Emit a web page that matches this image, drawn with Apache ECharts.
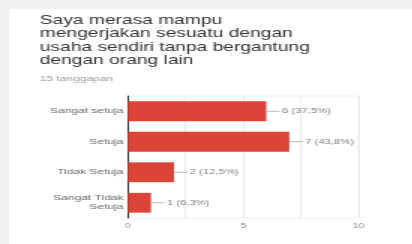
<!DOCTYPE html>
<html>
<head>
<meta charset="utf-8">
<script src="https://cdn.jsdelivr.net/npm/echarts@6/dist/echarts.min.js"></script>
<style>
  html, body { margin: 0; padding: 0; background: #f1f1f1; width: 412px; height: 244px; overflow: hidden; }
  #card { position: absolute; left: 9px; top: 9px; width: 403px; height: 235px; background: #fff; overflow: hidden; }
  /* the reference screenshot is stretched sideways, so draw narrow and scale */
  #chart { width: 268.67px; height: 235px; transform: scaleX(1.5); transform-origin: 0 0; }
</style>
</head>
<body>
<div id="card"><div id="chart"></div></div>
<script>
const titleLines = ['Saya merasa mampu', 'mengerjakan sesuatu dengan', 'usaha sendiri tanpa bergantung', 'dengan orang lain'];
const subtitle = '15 tanggapan';
const categories = ['Sangat setuja', 'Setuja', 'Tidak Setuja', 'Sangat Tidak\nSetuja'];
const counts = [6, 7, 2, 1];
const percents = ['37,5%', '43,8%', '12,5%', '6,3%'];
const xTicks = [0, 5, 10];

const chart = echarts.init(document.getElementById('chart'));
const option = {
  animation: false,
  title: [{
    text: titleLines.join('\n'),
    left: 20.5,
    top: 5,
    padding: 0,
    textStyle: {
      fontFamily: 'Liberation Sans',
      fontSize: 12.8,
      fontWeight: 'normal',
      lineHeight: 13.2,
      color: '#333'
    }
  }, {
    text: subtitle,
    left: 20.5,
    top: 65.5,
    padding: 0,
    textStyle: {
      fontFamily: 'Liberation Sans',
      fontSize: 8,
      fontWeight: 'normal',
      color: '#999'
    }
  }],
  grid: {
    left: 79.3,
    right: 36,
    top: 87,
    bottom: 26,
    show: true,
    borderColor: '#f0f0f0',
    borderWidth: 1
  },
  xAxis: {
    type: 'value',
    min: xTicks[0],
    max: xTicks[xTicks.length - 1],
    interval: 5,
    axisLine: { show: false },
    axisTick: { show: false },
    axisLabel: {
      fontFamily: 'Liberation Sans',
      fontSize: 7,
      color: '#888',
      margin: 5
    },
    splitLine: { lineStyle: { color: '#ebebeb', width: 1 } },
    minorTick: { show: false, splitNumber: 2 },
    minorSplitLine: { show: true, lineStyle: { color: '#ebebeb', width: 1 } }
  },
  yAxis: {
    type: 'category',
    inverse: true,
    data: categories,
    axisLine: { lineStyle: { color: '#333', width: 1 } },
    axisTick: { show: false },
    axisLabel: {
      fontFamily: 'Liberation Sans',
      fontSize: 8,
      lineHeight: 9,
      color: '#666',
      margin: 3
    }
  },
  series: [{
    type: 'bar',
    data: counts,
    barCategoryGap: '35%',
    itemStyle: { color: '#db4437' },
    label: {
      show: true,
      position: 'right',
      distance: 0,
      formatter: p => '{l|}{t|' + counts[p.dataIndex] + ' (' + percents[p.dataIndex] + ')}',
      rich: {
        l: { width: 9, height: 0.8, backgroundColor: '#a8a8a8', verticalAlign: 'middle' },
        t: {
          fontFamily: 'Liberation Sans',
          fontSize: 7.5,
          color: '#808080',
          padding: [0, 0, 0, 1.5],
          verticalAlign: 'middle'
        }
      }
    }
  }]
};
chart.setOption(option);
</script>
</body>
</html>
